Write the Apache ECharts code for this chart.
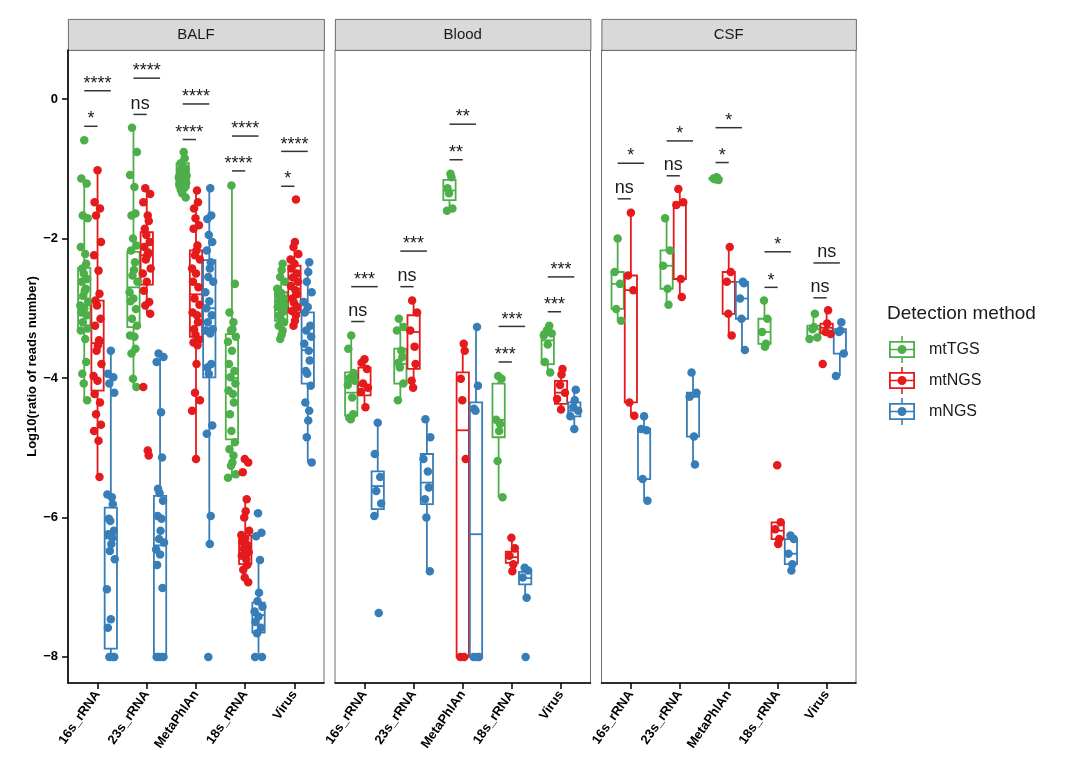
<!DOCTYPE html>
<html>
<head>
<meta charset="utf-8">
<title>Detection method</title>
<script src="https://cdn.jsdelivr.net/npm/echarts@6/dist/echarts.min.js"></script>
<style>
    html, body { margin: 0; padding: 0; background: #fff; }
    #main { width: 1071px; height: 767px; }
</style>
</head>
<body>
<div id="main"></div>
<script>
var categories = ['16s_rRNA', '23s_rRNA', 'MetaPhlAn', '18s_rRNA', 'Virus'];
var panels = ['BALF', 'Blood', 'CSF'];
var methods = ['mtTGS', 'mtNGS', 'mNGS'];
var methodColors = ['#4DAF4A', '#E41A1C', '#377EB8'];
var yTicks = [-8, -6, -4, -2, 0];

// box stats per category: [lower whisker, Q1, median, Q3, upper whisker]
var balfTGSBox = [[-4.32, -3.32, -2.86, -2.42, -1.14], [-4.13, -3.27, -2.70, -2.19, -0.41], [-1.41, -1.27, -1.09, -0.92, -0.76], [-5.43, -4.88, -4.00, -3.37, -1.24], [-3.44, -3.18, -2.95, -2.77, -2.36]];
var balfNGSBox = [[-5.42, -4.18, -3.50, -2.89, -1.02], [-3.08, -2.66, -2.24, -1.91, -1.28], [-5.16, -3.41, -2.80, -2.17, -1.31], [-6.93, -6.67, -6.45, -6.26, -5.74], [-3.25, -3.06, -2.72, -2.39, -2.05]];
var balfMNGSBox = [[-8.00, -7.88, -6.30, -5.86, -3.61], [-8.00, -7.96, -6.40, -5.69, -3.65], [-6.38, -3.99, -3.00, -2.31, -1.28], [-8.00, -7.65, -7.40, -7.22, -6.61], [-5.21, -4.08, -3.60, -3.06, -2.34]];
var bloodTGSBox = [[-4.59, -4.54, -4.21, -3.92, -3.39], [-4.32, -4.08, -3.80, -3.58, -3.15], [-1.60, -1.45, -1.31, -1.16, -1.07], [-5.71, -4.85, -4.60, -4.08, -3.97], [-3.92, -3.80, -3.46, -3.34, -3.25]];
var bloodNGSBox = [[-4.42, -4.25, -4.10, -3.85, -3.73], [-4.14, -3.87, -3.34, -3.10, -2.89], [-8.00, -8.00, -4.75, -3.92, -3.51], [-6.77, -6.65, -6.57, -6.49, -6.29], [-4.45, -4.37, -4.21, -4.04, -3.87]];
var bloodMNGSBox = [[-5.98, -5.88, -5.55, -5.34, -4.64], [-6.77, -5.81, -5.50, -5.09, -4.59], [-8.00, -8.00, -6.24, -4.35, -3.27], [-7.15, -6.96, -6.87, -6.78, -6.72], [-4.73, -4.55, -4.47, -4.35, -4.17]];
var csfTGSBox = [[-3.18, -3.01, -2.65, -2.48, -2.00], [-2.95, -2.72, -2.39, -2.17, -1.71], [-1.16, -1.15, -1.14, -1.13, -1.12], [-3.55, -3.51, -3.34, -3.15, -2.89], [-3.44, -3.42, -3.30, -3.25, -3.08]];
var csfNGSBox = [[-4.54, -4.35, -2.74, -2.53, -1.63], [-2.84, -2.58, -1.52, -1.48, -1.29], [-3.39, -3.08, -2.62, -2.48, -2.12], [-6.38, -6.31, -6.19, -6.07, -6.07], [-3.37, -3.36, -3.28, -3.22, -3.03]];
var csfMNGSBox = [[-5.76, -5.45, -4.75, -4.73, -4.55], [-5.24, -4.84, -4.27, -4.21, -3.92], [-3.60, -3.15, -2.86, -2.62, -2.62], [-6.76, -6.67, -6.52, -6.31, -6.26], [-3.97, -3.65, -3.34, -3.30, -3.20]];

// sample points per category, log10(ratio of reads number)
var balfTGSPts = [
    [-0.59, -1.14, -1.21, -1.67, -1.71, -2.12, -2.22, -2.36, -2.43, -2.50, -2.58, -2.62, -2.72, -2.75, -2.82, -2.91, -2.96, -3.00, -3.06, -3.10, -3.20, -3.29, -3.32, -3.44, -3.77, -3.94, -4.08, -4.32],
    [-0.41, -0.76, -1.09, -1.26, -1.64, -1.67, -2.00, -2.10, -2.17, -2.34, -2.45, -2.53, -2.62, -2.77, -2.86, -2.90, -3.01, -3.15, -3.25, -3.39, -3.41, -3.58, -3.65, -4.01, -4.13],
    [-0.76, -0.85, -0.92, -0.97, -1.00, -1.02, -1.05, -1.07, -1.08, -1.10, -1.12, -1.13, -1.15, -1.17, -1.18, -1.20, -1.22, -1.25, -1.27, -1.30, -1.35, -1.41],
    [-1.24, -2.65, -3.06, -3.20, -3.30, -3.32, -3.41, -3.48, -3.61, -3.80, -3.90, -3.99, -4.08, -4.18, -4.23, -4.35, -4.52, -4.76, -4.92, -5.02, -5.11, -5.21, -5.26, -5.38, -5.43],
    [-2.36, -2.45, -2.55, -2.62, -2.72, -2.78, -2.80, -2.86, -2.90, -2.95, -2.98, -3.00, -3.05, -3.10, -3.15, -3.20, -3.25, -3.32, -3.38, -3.44]
];
var balfNGSPts = [
    [-1.02, -1.48, -1.57, -1.67, -2.05, -2.24, -2.46, -2.79, -2.89, -2.96, -3.15, -3.25, -3.46, -3.53, -3.61, -3.80, -3.97, -4.04, -4.23, -4.35, -4.52, -4.67, -4.76, -4.90, -5.42],
    [-1.28, -1.36, -1.48, -1.67, -1.75, -1.86, -1.95, -2.05, -2.12, -2.20, -2.24, -2.30, -2.43, -2.50, -2.62, -2.75, -2.91, -2.96, -3.08, -4.13, -5.04, -5.11],
    [-1.31, -1.48, -1.57, -1.71, -1.81, -1.86, -2.10, -2.17, -2.24, -2.30, -2.43, -2.50, -2.62, -2.70, -2.86, -2.95, -3.06, -3.10, -3.20, -3.30, -3.38, -3.45, -3.49, -3.53, -3.80, -4.21, -4.32, -4.47, -5.16],
    [-5.16, -5.21, -5.35, -5.74, -5.91, -6.00, -6.19, -6.25, -6.30, -6.35, -6.40, -6.45, -6.50, -6.55, -6.60, -6.68, -6.75, -6.86, -6.93],
    [-1.44, -2.05, -2.12, -2.22, -2.30, -2.36, -2.43, -2.50, -2.56, -2.62, -2.68, -2.74, -2.80, -2.86, -2.92, -2.98, -3.04, -3.10, -3.18, -3.25]
];
var balfMNGSPts = [
    [-3.61, -3.94, -3.99, -4.08, -4.21, -5.67, -5.71, -5.81, -6.02, -6.05, -6.19, -6.24, -6.29, -6.38, -6.48, -6.60, -7.03, -7.46, -7.58, -8.00, -8.00, -8.00],
    [-3.65, -3.70, -3.77, -4.49, -5.14, -5.59, -5.65, -5.76, -5.98, -6.02, -6.19, -6.31, -6.36, -6.46, -6.53, -6.68, -7.01, -8.00, -8.00, -8.00, -8.00],
    [-1.28, -1.67, -1.72, -1.95, -2.05, -2.17, -2.34, -2.43, -2.55, -2.62, -2.77, -2.90, -3.00, -3.10, -3.20, -3.30, -3.32, -3.36, -3.80, -3.85, -3.94, -4.68, -4.80, -5.98, -6.38, -8.00],
    [-5.94, -6.22, -6.27, -6.61, -7.08, -7.20, -7.28, -7.35, -7.42, -7.50, -7.58, -7.66, -8.00, -8.00],
    [-2.34, -2.48, -2.62, -2.77, -2.91, -2.98, -3.06, -3.25, -3.32, -3.41, -3.51, -3.61, -3.75, -3.90, -3.94, -4.11, -4.35, -4.47, -4.61, -4.85, -5.21]
];
var bloodTGSPts = [
    [-3.39, -3.58, -3.93, -4.00, -4.04, -4.10, -4.28, -4.52, -4.57, -4.59],
    [-3.15, -3.27, -3.32, -3.61, -3.70, -3.78, -3.85, -4.08, -4.32],
    [-1.07, -1.12, -1.28, -1.35, -1.57, -1.60],
    [-3.97, -4.01, -4.60, -4.66, -4.76, -5.19, -5.71],
    [-3.25, -3.30, -3.32, -3.36, -3.39, -3.52, -3.77, -3.92]
];
var bloodNGSPts = [
    [-3.73, -3.78, -3.87, -4.08, -4.14, -4.20, -4.42],
    [-2.89, -3.06, -3.32, -3.55, -3.80, -4.04, -4.14],
    [-3.51, -3.61, -4.01, -4.32, -5.16, -8.00, -8.00],
    [-6.29, -6.44, -6.55, -6.67, -6.77],
    [-3.87, -3.95, -4.10, -4.21, -4.30, -4.45]
];
var bloodMNGSPts = [
    [-4.64, -5.09, -5.42, -5.62, -5.80, -5.98, -7.37],
    [-4.59, -4.85, -5.16, -5.34, -5.57, -5.74, -6.00, -6.77],
    [-3.27, -4.11, -4.44, -4.47, -8.00, -8.00, -8.00],
    [-6.72, -6.76, -6.86, -7.15, -8.00],
    [-4.17, -4.32, -4.42, -4.47, -4.55, -4.73]
];
var csfTGSPts = [
    [-2.00, -2.48, -2.65, -3.01, -3.18],
    [-1.71, -2.17, -2.39, -2.72, -2.95],
    [-1.12, -1.13, -1.14, -1.15, -1.16],
    [-2.89, -3.15, -3.34, -3.51, -3.55],
    [-3.08, -3.27, -3.30, -3.42, -3.44]
];
var csfNGSPts = [
    [-1.63, -2.53, -2.74, -4.35, -4.54],
    [-1.29, -1.48, -1.52, -2.58, -2.84],
    [-2.12, -2.48, -2.62, -3.08, -3.39],
    [-5.25, -6.07, -6.17, -6.31, -6.38],
    [-3.03, -3.22, -3.34, -3.37, -3.80]
];
var csfMNGSPts = [
    [-4.55, -4.73, -4.75, -5.45, -5.76],
    [-3.92, -4.21, -4.27, -4.84, -5.24],
    [-2.62, -2.64, -2.86, -3.15, -3.60],
    [-6.26, -6.31, -6.52, -6.67, -6.76],
    [-3.20, -3.32, -3.34, -3.65, -3.97]
];

// significance per category: [mtTGS vs mtNGS height, label, mtTGS vs mNGS height, label]
var balfSig = [[-0.39, '*', 0.12, '****'], [-0.22, 'ns', 0.30, '****'], [-0.58, '****', -0.07, '****'], [-1.03, '****', -0.53, '****'], [-1.25, '*', -0.75, '****']];
var bloodSig = [[-3.19, 'ns', -2.69, '***'], [-2.69, 'ns', -2.18, '***'], [-0.87, '**', -0.36, '**'], [-3.77, '***', -3.26, '***'], [-3.05, '***', -2.55, '***']];
var csfSig = [[-1.43, 'ns', -0.92, '*'], [-1.10, 'ns', -0.60, '*'], [-0.91, '*', -0.41, '*'], [-2.70, '*', -2.19, '*'], [-2.85, 'ns', -2.35, 'ns']];

var panelBoxes = [[balfTGSBox, balfNGSBox, balfMNGSBox], [bloodTGSBox, bloodNGSBox, bloodMNGSBox], [csfTGSBox, csfNGSBox, csfMNGSBox]];
var panelPts = [[balfTGSPts, balfNGSPts, balfMNGSPts], [bloodTGSPts, bloodNGSPts, bloodMNGSPts], [csfTGSPts, csfNGSPts, csfMNGSPts]];
var panelSig = [balfSig, bloodSig, csfSig];

var FONT = 'Liberation Sans';
var PANEL_LEFT = [68, 335, 601.5];
var PANEL_WIDTH = [256, 255.5, 254.5];
var PLOT_TOP = 50;
var PLOT_HEIGHT = 633;
var Y_MIN = -8.374, Y_MAX = 0.704;
var DODGE = 0.27;
var BOX_HALF = 0.125;
var JITTER = [0.00, -0.06, 0.05, -0.03, 0.07, -0.07, 0.02, 0.04, -0.04, -0.01, 0.06, -0.05, 0.03, 0.01, -0.02, 0.08, -0.08];

var LEGEND_ICON = 'path://M12.2 0L13.8 0L13.8 5L12.2 5Z' +
    'M0 5L26 5L26 22L0 22Z' +
    'M1.8 6.8L1.8 20.2L24.2 20.2L24.2 6.8Z' +
    'M1.8 12.7L24.2 12.7L24.2 14.3L1.8 14.3Z' +
    'M12.2 22L13.8 22L13.8 27L12.2 27Z' +
    'M17.5 13.5A4.5 4.5 0 1 1 8.5 13.5A4.5 4.5 0 1 1 17.5 13.5Z';

function renderBox(params, api) {
    var x = api.value(0);
    var color = api.visual('color');
    var lo = api.coord([x, api.value(1)]);
    var q1 = api.coord([x, api.value(2)]);
    var med = api.coord([x, api.value(3)]);
    var q3 = api.coord([x, api.value(4)]);
    var hi = api.coord([x, api.value(5)]);
    var xl = api.coord([x - BOX_HALF, 0])[0];
    var xr = api.coord([x + BOX_HALF, 0])[0];
    var st = {stroke: color, lineWidth: 1.8, fill: 'none'};
    return {
        type: 'group',
        children: [
            {type: 'line', shape: {x1: hi[0], y1: hi[1], x2: q3[0], y2: q3[1]}, style: st},
            {type: 'line', shape: {x1: q1[0], y1: q1[1], x2: lo[0], y2: lo[1]}, style: st},
            {type: 'rect', shape: {x: xl, y: q3[1], width: xr - xl, height: q1[1] - q3[1]}, style: st},
            {type: 'line', shape: {x1: xl, y1: med[1], x2: xr, y2: med[1]}, style: st}
        ]
    };
}

function sigRenderer(labels) {
    return function (params, api) {
        var y = api.value(2);
        var p1 = api.coord([api.value(0), y]);
        var p2 = api.coord([api.value(1), y]);
        var label = labels[params.dataIndex];
        // stars sit high in the glyph box, "ns" sits low
        var off = label == 'ns' ? 10.8 : 6.8;
        return {
            type: 'group',
            children: [
                {type: 'line', shape: {x1: p1[0], y1: p1[1], x2: p2[0], y2: p2[1]}, style: {stroke: '#333', lineWidth: 1.5}},
                {
                    type: 'text',
                    style: {
                        text: label, x: (p1[0] + p2[0]) / 2, y: p1[1] - off,
                        align: 'center', verticalAlign: 'middle',
                        fontSize: 18, fontFamily: FONT, fill: '#1a1a1a'
                    }
                }
            ]
        };
    };
}

var grids = [], xAxes = [], yAxes = [], series = [], graphics = [];

for (var p = 0; p < panels.length; p++) {
    grids.push({
        left: PANEL_LEFT[p], top: PLOT_TOP, width: PANEL_WIDTH[p], height: PLOT_HEIGHT,
        show: true, borderColor: '#4d4d4d', borderWidth: 0.8, backgroundColor: '#fff'
    });
    xAxes.push({
        type: 'value', gridIndex: p, min: 0.4, max: 5.6,
        splitLine: {show: false},
        axisLine: {show: true, onZero: false, lineStyle: {color: '#000', width: 1.6}},
        axisTick: {show: true, customValues: [1, 2, 3, 4, 5], length: 6, lineStyle: {color: '#000', width: 1.5}},
        axisLabel: {
            customValues: [1, 2, 3, 4, 5],
            formatter: function (v) { return categories[Math.round(v) - 1]; },
            rotate: 55, margin: 9, color: '#000', fontWeight: 'bold', fontSize: 13, fontFamily: FONT
        }
    });
    var yAxis = {
        type: 'value', gridIndex: p, min: Y_MIN, max: Y_MAX,
        splitLine: {show: false},
        axisLine: {show: p == 0, onZero: false, lineStyle: {color: '#000', width: 1.6}},
        axisTick: {show: p == 0, customValues: yTicks, length: 6, lineStyle: {color: '#000', width: 1.5}},
        axisLabel: {
            show: p == 0, customValues: yTicks, margin: 10,
            formatter: function (v) { return String(v).replace('-', '\u2212'); },
            color: '#000', fontWeight: 'bold', fontSize: 13, fontFamily: FONT
        }
    };
    if (p == 0) {
        yAxis.name = 'Log10(ratio of reads number)';
        yAxis.nameLocation = 'middle';
        yAxis.nameGap = 29;
        yAxis.nameTextStyle = {color: '#000', fontWeight: 'bold', fontSize: 13, fontFamily: FONT};
    }
    yAxes.push(yAxis);

    // facet strip
    graphics.push({
        type: 'rect', left: PANEL_LEFT[p], top: 19,
        shape: {width: PANEL_WIDTH[p], height: 31},
        style: {fill: '#d9d9d9', stroke: '#4d4d4d', lineWidth: 0.8}
    });
    graphics.push({
        type: 'text', x: PANEL_LEFT[p] + PANEL_WIDTH[p] / 2, y: 35,
        style: {text: panels[p], align: 'center', verticalAlign: 'middle', fontSize: 15, fontFamily: FONT, fill: '#1a1a1a'}
    });

    for (var m = 0; m < methods.length; m++) {
        var shift = (m - 1) * DODGE;
        var boxData = panelBoxes[p][m].map(function (b, i) {
            return [i + 1 + shift].concat(b);
        });
        series.push({
            type: 'custom', name: methods[m], xAxisIndex: p, yAxisIndex: p,
            itemStyle: {color: methodColors[m]},
            renderItem: renderBox,
            encode: {x: 0, y: [1, 2, 3, 4, 5]},
            data: boxData, z: 2, silent: true
        });
        var ptData = [];
        panelPts[p][m].forEach(function (vals, i) {
            vals.forEach(function (v, k) {
                ptData.push([i + 1 + shift + JITTER[(k + i * 3) % JITTER.length], v]);
            });
        });
        series.push({
            type: 'scatter', name: methods[m], xAxisIndex: p, yAxisIndex: p,
            symbolSize: 8.5, itemStyle: {color: methodColors[m], opacity: 1},
            data: ptData, z: 3, silent: true
        });
    }

    var sigData = [], sigLabels = [];
    panelSig[p].forEach(function (s, i) {
        sigData.push([i + 1 - DODGE, i + 1, s[0]]);
        sigLabels.push(s[1]);
        sigData.push([i + 1 - DODGE, i + 1 + DODGE, s[2]]);
        sigLabels.push(s[3]);
    });
    series.push({
        type: 'custom', xAxisIndex: p, yAxisIndex: p,
        renderItem: sigRenderer(sigLabels),
        encode: {x: [0, 1], y: 2},
        data: sigData, z: 4, silent: true
    });
}

var myChart = echarts.init(document.getElementById('main'));
var option = {
    animation: false,
    backgroundColor: '#fff',
    textStyle: {fontFamily: FONT},
    title: {
        text: 'Detection method', left: 887, top: 304, padding: 0,
        textStyle: {fontSize: 19, fontWeight: 'normal', color: '#1a1a1a', fontFamily: FONT}
    },
    legend: {
        orient: 'vertical', left: 889, top: 336, padding: 0,
        itemWidth: 26, itemHeight: 27, itemGap: 4, selectedMode: false,
        data: methods.map(function (n) { return {name: n, icon: LEGEND_ICON}; }),
        textStyle: {fontSize: 16, color: '#1a1a1a', fontFamily: FONT, padding: [0, 0, 0, 9]}
    },
    grid: grids,
    xAxis: xAxes,
    yAxis: yAxes,
    graphic: graphics,
    series: series
};
myChart.setOption(option);
</script>
</body>
</html>
